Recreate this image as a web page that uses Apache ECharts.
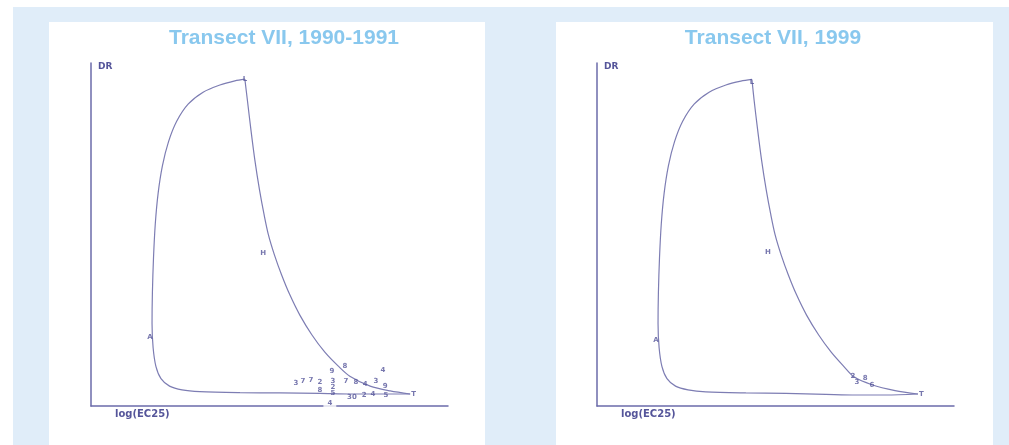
<!DOCTYPE html>
<html>
<head>
<meta charset="utf-8">
<script src="https://cdn.jsdelivr.net/npm/echarts@6/dist/echarts.min.js"></script>
<style>
  html, body { margin: 0; padding: 0; background: #ffffff; }
  #wrap { position: relative; width: 1009px; height: 445px; overflow: hidden; }
  .band { position: absolute; left: 13px; top: 7px; width: 996px; height: 438px; background: #e0edf9; }
  .panel { position: absolute; top: 22px; height: 423px; background: #ffffff; }
  #chart { position: absolute; left: 0; top: 0; width: 1009px; height: 445px; }
</style>
</head>
<body>
<div id="wrap">
  <div class="band"></div>
  <div class="panel" style="left:49px;width:436px;"></div>
  <div class="panel" style="left:556px;width:437px;"></div>
  <div id="chart"></div>
</div>
<script>
// Panel titles and axis names
const titles = ['Transect VII, 1990-1991', 'Transect VII, 1999'];
const yAxisName = 'DR';
const xAxisName = 'log(EC25)';

// Response loop, 1990-1991.
// Rising limb: from the end point along the bottom, up the left side to the peak
const riseX_1990 = [8.94, 8.10, 7.25, 6.41, 5.29, 4.17, 3.05, 2.55, 2.20, 1.96, 1.82, 1.74, 1.71, 1.72, 1.75, 1.80, 1.88, 2.00, 2.17, 2.40, 2.72, 3.14, 3.61, 4.03, 4.31];
const riseY_1990 = [0.35, 0.35, 0.35, 0.37, 0.38, 0.39, 0.42, 0.47, 0.58, 0.80, 1.15, 1.70, 2.40, 3.30, 4.30, 5.30, 6.20, 7.00, 7.70, 8.30, 8.80, 9.15, 9.36, 9.48, 9.53];
// Falling limb: from the peak down the right side back to the end point
const fallX_1990 = [4.31, 4.38, 4.48, 4.59, 4.72, 4.85, 4.97, 5.14, 5.34, 5.57, 5.85, 6.19, 6.55, 6.92, 7.25, 7.82, 8.38, 8.94];
const fallY_1990 = [9.53, 8.92, 8.05, 7.17, 6.30, 5.57, 4.99, 4.40, 3.82, 3.24, 2.65, 2.07, 1.57, 1.17, 0.87, 0.58, 0.44, 0.35];

// Response loop, 1999
const riseX_1999 = [8.99, 8.10, 7.25, 6.41, 5.29, 4.17, 3.05, 2.55, 2.20, 1.96, 1.82, 1.74, 1.71, 1.72, 1.75, 1.80, 1.88, 2.00, 2.17, 2.40, 2.72, 3.14, 3.61, 4.03, 4.34];
const riseY_1999 = [0.35, 0.32, 0.32, 0.34, 0.37, 0.38, 0.41, 0.47, 0.58, 0.80, 1.15, 1.70, 2.40, 3.30, 4.30, 5.30, 6.20, 7.00, 7.70, 8.30, 8.80, 9.15, 9.36, 9.47, 9.52];
const fallX_1999 = [4.34, 4.40, 4.50, 4.61, 4.74, 4.87, 4.99, 5.16, 5.36, 5.59, 5.87, 6.21, 6.56, 6.90, 7.20, 7.70, 8.35, 8.99];
const fallY_1999 = [9.52, 8.92, 8.05, 7.17, 6.30, 5.57, 4.99, 4.40, 3.82, 3.24, 2.65, 2.07, 1.57, 1.17, 0.85, 0.62, 0.45, 0.35];

// Sample markers: [x, y, label]
const marks_1990 = [
  [4.31, 9.53, 'L'], [4.82, 4.46, 'H'], [1.65, 2.01, 'A'],
  [5.74, 0.67, '3'], [5.94, 0.73, '7'], [6.16, 0.76, '7'],
  [6.75, 1.02, '9'], [7.11, 1.17, '8'], [8.18, 1.05, '4'],
  [6.41, 0.70, '2'], [6.41, 0.47, '8'],
  [6.78, 0.73, '3'], [6.78, 0.55, '2'], [6.78, 0.38, '5'],
  [7.14, 0.73, '7'], [7.42, 0.70, '8'], [7.68, 0.64, '4'], [7.98, 0.73, '3'], [8.24, 0.58, '9'],
  [7.31, 0.26, '30'], [7.65, 0.32, '2'], [7.90, 0.35, '4'], [8.26, 0.32, '5']
];
const baseMark_1990 = [[6.69, 0.09, '4']];
const end_1990 = [[8.94, 0.35, 'T']];

const marks_1999 = [
  [4.34, 9.45, 'L'], [4.79, 4.49, 'H'], [1.65, 1.92, 'A'],
  [7.17, 0.87, '2'], [7.28, 0.68, '3'], [7.51, 0.82, '8'], [7.70, 0.61, '6']
];
const end_1999 = [[8.99, 0.35, 'T']];

const ink = '#55559a';
const curveColor = '#7d7db3';
const axisColor = '#6b6baa';

const grids = [
  { left: 91, top: 63, width: 357, height: 343 },
  { left: 597, top: 63, width: 357, height: 343 }
];

function axis(gridIndex) {
  return {
    type: 'value', gridIndex, min: 0, max: 10,
    axisLine: { show: true, onZero: false, lineStyle: { color: axisColor, width: 1.5 } },
    axisTick: { show: false }, axisLabel: { show: false }, splitLine: { show: false }
  };
}

function limbSeries(i, xs, ys) {
  return {
    type: 'line', xAxisIndex: i, yAxisIndex: i,
    data: xs.map((x, k) => [x, ys[k]]),
    smooth: 0.3, showSymbol: false, symbol: 'none',
    lineStyle: { color: curveColor, width: 1.2 }, z: 2, silent: true
  };
}

function markSeries(i, data, extra) {
  return {
    type: 'scatter', xAxisIndex: i, yAxisIndex: i, data, symbolSize: 0, z: 4, silent: true,
    label: Object.assign({
      show: true, position: 'inside', formatter: p => p.data[2],
      fontSize: 7, fontWeight: 'bold', color: ink, fontFamily: 'DejaVu Sans'
    }, extra || {})
  };
}

const titleStyle = { fill: '#89c8ee', fontSize: 21, fontWeight: 'bold', fontFamily: 'Liberation Sans', align: 'center', verticalAlign: 'middle' };
const small = { fill: ink, fontSize: 9, fontWeight: 'bold', fontFamily: 'DejaVu Sans', verticalAlign: 'top' };

const chart = echarts.init(document.getElementById('chart'), null, { renderer: 'canvas' });
chart.setOption({
  backgroundColor: 'transparent',
  animation: false,
  grid: grids,
  xAxis: [axis(0), axis(1)],
  yAxis: [axis(0), axis(1)],
  graphic: [
    { type: 'text', x: 284, y: 38, style: Object.assign({}, titleStyle, { text: titles[0] }) },
    { type: 'text', x: 773, y: 38, style: Object.assign({}, titleStyle, { text: titles[1] }) },
    { type: 'text', left: 98, top: 62, style: Object.assign({}, small, { text: yAxisName }) },
    { type: 'text', left: 604, top: 62, style: Object.assign({}, small, { text: yAxisName }) },
    { type: 'text', left: 115, top: 409, style: Object.assign({}, small, { text: xAxisName, fontSize: 10 }) },
    { type: 'text', left: 621, top: 409, style: Object.assign({}, small, { text: xAxisName, fontSize: 10 }) }
  ],
  series: [
    limbSeries(0, riseX_1990, riseY_1990),
    limbSeries(0, fallX_1990, fallY_1990),
    markSeries(0, marks_1990),
    markSeries(0, baseMark_1990, { backgroundColor: '#ffffff', padding: [1, 4] }),
    markSeries(0, end_1990, { position: 'right', distance: 1 }),
    limbSeries(1, riseX_1999, riseY_1999),
    limbSeries(1, fallX_1999, fallY_1999),
    markSeries(1, marks_1999),
    markSeries(1, end_1999, { position: 'right', distance: 1 })
  ]
});
</script>
</body>
</html>
